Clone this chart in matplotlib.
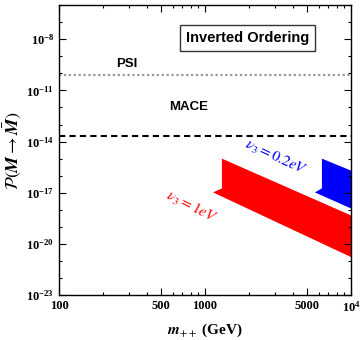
import matplotlib
matplotlib.use("Agg")
import matplotlib.pyplot as plt
from matplotlib.ticker import FixedLocator, NullFormatter

plt.rcParams['font.family'] = ['Liberation Serif', 'DejaVu Serif']
plt.rcParams['mathtext.fontset'] = 'stix'

# bounds
psi_bound = 8.2e-11
mace_bound = 2.2e-14

# allowed regions (outline of the scatter)
red_m = [1306, 1306, 1135, 10000, 10000]
red_P = [1.0e-15, 1.8e-17, 1.05e-17, 1.7e-21, 4.7e-19]
blue_m = [6320, 6320, 5660, 10000, 10000]
blue_P = [1.0e-15, 1.8e-17, 1.05e-17, 1.2e-18, 2.0e-16]

xticks = [100, 500, 1000, 5000, 10000]
xticklabels = ['100', '500', '1000', '5000', r'$\mathdefault{10^{4}}$']
xminor = [200, 300, 400, 600, 700, 800, 900,
          2000, 3000, 4000, 6000, 7000, 8000, 9000]
yticks = [1e-23, 1e-20, 1e-17, 1e-14, 1e-11, 1e-8]
yticklabels = [r'$\mathdefault{10^{-23}}$', r'$\mathdefault{10^{-20}}$',
               r'$\mathdefault{10^{-17}}$', r'$\mathdefault{10^{-14}}$',
               r'$\mathdefault{10^{-11}}$', r'$\mathdefault{10^{-8}}$']
yminor = [10.0 ** k for k in range(-23, -5)]

fig = plt.figure(figsize=(3.6, 3.4), dpi=100)
ax = fig.add_axes([0.164, 0.132, 0.811, 0.853])
ax.set_xscale('log')
ax.set_yscale('log')
ax.set_xlim(100, 10000)
ax.set_ylim(1e-23, 1e-6)

ax.fill(red_m, red_P, color='#ff0000', lw=0)
ax.fill(blue_m, blue_P, color='#0000ff', lw=0)

ax.axhline(psi_bound, color='#999999', ls=(0, (1, 1.2)), lw=1.6)
ax.axhline(mace_bound, color='black', ls=(0, (3, 2)), lw=1.5)

sans = ['Liberation Sans', 'DejaVu Sans']
ax.text(293, 3.5e-10, 'PSI', family=sans, weight='bold', fontsize=9.5,
        ha='center', va='center')
ax.text(776, 1.1e-12, 'MACE', family=sans, weight='bold', fontsize=9.5,
        ha='center', va='center')
ax.text(0.647, 0.886, 'Inverted Ordering', transform=ax.transAxes,
        family=sans, weight='bold', fontsize=10.5, ha='center', va='center',
        bbox=dict(boxstyle='square,pad=0.4', fc='white', ec='#333333', lw=1))

ax.text(3060, 1.15e-15, r'$\nu_3 = 0.2 eV$', color='#0000ff', fontsize=11,
        rotation=-25, ha='center', va='center')
ax.text(802, 1.4e-18, r'$\nu_3 = 1 eV$', color='#ff0000', fontsize=11,
        rotation=-27, ha='center', va='center')

ax.xaxis.set_major_locator(FixedLocator(xticks))
ax.set_xticklabels(xticklabels)
ax.xaxis.set_minor_locator(FixedLocator(xminor))
ax.xaxis.set_minor_formatter(NullFormatter())
ax.yaxis.set_major_locator(FixedLocator(yticks))
ax.set_yticklabels(yticklabels)
ax.yaxis.set_minor_locator(FixedLocator(yminor))
ax.yaxis.set_minor_formatter(NullFormatter())

ax.tick_params(which='both', direction='in', top=True, right=True, width=0.8)
ax.tick_params(which='major', length=5, labelsize=9)
ax.tick_params(which='minor', length=2.5)
for lab in ax.get_xticklabels() + ax.get_yticklabels():
    lab.set_fontweight('bold')
for sp in ax.spines.values():
    sp.set_linewidth(1.0)

ax.set_xlabel(r'$\mathbfit{m}_{++}$ (GeV)', fontsize=11, weight='bold',
              labelpad=5)
ax.set_ylabel(r'$\mathcal{P}(\mathbfit{M} \rightarrow \bar{\mathbfit{M}})$',
              fontsize=13, labelpad=2)

fig.savefig('out.png', dpi=100)
